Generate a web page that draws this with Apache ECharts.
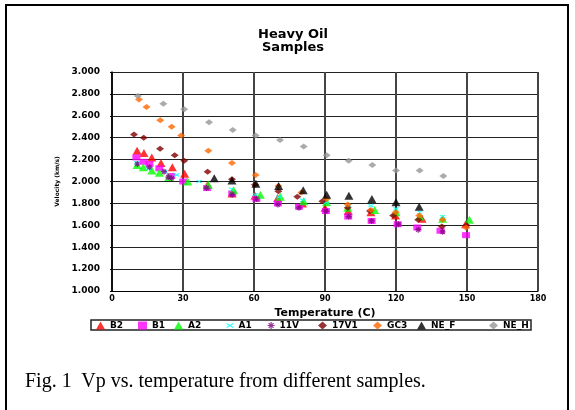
<!DOCTYPE html>
<html>
<head>
<meta charset="utf-8">
<script src="https://cdn.jsdelivr.net/npm/echarts@6/dist/echarts.min.js"></script>
<style>
html,body{margin:0;padding:0;background:#fff;}
#wrap{position:relative;width:575px;height:410px;overflow:hidden;}
#chart{position:absolute;left:0;top:0;width:575px;height:410px;}
#frame{position:absolute;left:5px;top:4px;width:564px;height:420px;border:2px solid #000;box-sizing:border-box;pointer-events:none;}
#caption{position:absolute;left:25px;top:369px;font-family:"Liberation Serif","Times New Roman",serif;font-size:20px;color:#000;white-space:pre;}
</style>
</head>
<body>
<div id="wrap">
<div id="chart"></div>
<div id="frame"></div>
<div id="caption">Fig. 1  Vp vs. temperature from different samples.</div>
</div>
<script>
// ---- data (temperature C, velocity km/s) ----
var seriesNames = ['B2','B1','A2','A1','11V','17V1','GC3','NE_F','NE_H'];
var xTicks = [0,30,60,90,120,150,180];
var yTicks = [1.0,1.2,1.4,1.6,1.8,2.0,2.2,2.4,2.6,2.8,3.0];

var B2 = [[10.6,2.28],[13.5,2.26],[16.8,2.22],[20.7,2.17],[25.5,2.13],[30.7,2.07],[40.4,1.97],[50.7,1.89],[60.4,1.87],[70,1.85],[80.5,1.80],[90,1.76],[99.8,1.73],[109.4,1.72],[119.8,1.69],[131,1.66],[149.4,1.61]];
var B1 = [[10.3,2.22],[13.4,2.18],[15.8,2.16],[20,2.12],[25,2.05],[30.1,2.00],[40.2,1.94],[50.8,1.89],[61,1.84],[70.1,1.80],[79,1.77],[90.4,1.73],[99.8,1.68],[109.7,1.64],[120.7,1.61],[129,1.58],[138.8,1.55],[149.6,1.51]];
var A2 = [[10.6,2.15],[13.2,2.13],[16.8,2.10],[20,2.08],[24,2.04],[32,2.00],[40.7,1.97],[51.4,1.92],[62.7,1.88],[71.1,1.86],[81,1.82],[90.7,1.81],[99.6,1.76],[111,1.74],[120,1.72],[130,1.68],[139.7,1.66],[151,1.65]];
var A1 = [[10.5,2.17],[15.5,2.12],[22.4,2.09],[27.3,2.06],[36.8,2.00],[50.5,1.93],[60.5,1.88],[70.5,1.86],[80.5,1.83],[90.5,1.81],[100,1.78],[109.4,1.78],[120,1.75],[130,1.72],[139.7,1.68]];
var V11 = [[10.7,2.16],[15.8,2.13],[22,2.09],[23.8,2.04],[25.2,2.03],[40,1.94],[50.8,1.88],[61,1.84],[70.1,1.79],[79,1.76],[90.4,1.73],[100,1.68],[109.7,1.64],[121,1.61],[129.4,1.56],[139.7,1.54]];
var V17V1 = [[9.3,2.43],[13.4,2.40],[20.3,2.30],[26.5,2.24],[30.5,2.19],[40.4,2.09],[50.7,2.02],[60.4,1.97],[70.3,1.91],[78.3,1.86],[88.9,1.82],[99.6,1.76],[109,1.73],[118.8,1.69],[129.4,1.65],[139.4,1.59],[149.8,1.60]];
var GC3 = [[11.4,2.75],[14.6,2.68],[20.4,2.56],[25.2,2.50],[29.2,2.42],[40.7,2.28],[50.7,2.17],[60.7,2.06],[70.3,1.96],[80,1.90],[90.7,1.84],[99.6,1.79],[109.4,1.74],[119.9,1.72],[129.8,1.69],[139.7,1.65],[149.6,1.58]];
var NE_F = [[43.2,2.03],[50.7,2.01],[60.8,1.98],[70.4,1.96],[80.8,1.92],[90.7,1.88],[100.1,1.87],[109.8,1.84],[120,1.81],[129.8,1.77]];
var NE_H = [[10.9,2.78],[21.7,2.71],[30.5,2.66],[41,2.54],[51,2.47],[60.7,2.42],[71,2.38],[81,2.32],[90.7,2.24],[100,2.19],[110,2.15],[120,2.10],[130,2.10],[140,2.05]];

var seriesData = [B2,B1,A2,A1,V11,V17V1,GC3,NE_F,NE_H];

// ---- styles ----
var asterisk = 'path://M0,5 L10,5 M5,0 L5,10 M1.5,1.5 L8.5,8.5 M8.5,1.5 L1.5,8.5';
var xmark = 'path://M0,0 L10,6 M10,0 L0,6';
var styles = [
  {symbol:'triangle', size:[9,8], color:'#FF0000'},
  {symbol:'rect', size:[8,6], color:'#FF00FF'},
  {symbol:'triangle', size:[9,8], color:'#00FF00'},
  {symbol:xmark, size:[5,3], color:'#00FFFF', stroke:true},
  {symbol:asterisk, size:[6,6], color:'#800080', stroke:true},
  {symbol:'diamond', size:[8,6], color:'#800000'},
  {symbol:'diamond', size:[8,6], color:'#FF6600'},
  {symbol:'triangle', size:[9,8], color:'#000000'},
  {symbol:'diamond', size:[8,6], color:'#969696'}
];
var legendLeft = [96,138,174,226,267,318,373,417,489];

var font = '"DejaVu Sans", "Liberation Sans", Arial, sans-serif';

var series = seriesNames.map(function(n,i){
  var s = styles[i];
  var it = s.stroke ? {color:s.color, borderColor:s.color, borderWidth:1.2} : {color:s.color};
  return {name:n, type:'scatter', data:seriesData[i], symbol:s.symbol, symbolSize:s.size, itemStyle:it, z:2+i};
});

var legends = seriesNames.map(function(n,i){
  var s = styles[i];
  var ts = {fontFamily:font, fontWeight:'bold', fontSize:9, color:'#000'};
  if (n === 'NE_H') { ts.width = 29; ts.overflow = 'truncate'; ts.ellipsis = ''; }
  var lg = {data:[n], left:legendLeft[i], top:321, padding:0, itemWidth:s.stroke?7:9, itemHeight:s.stroke?(n==='A1'?4:7):8, itemGap:0, textStyle:ts, selectedMode:false};
  if (s.stroke) { lg.icon = s.symbol; lg.itemStyle = {color:s.color, borderColor:s.color, borderWidth:1.2}; }
  return lg;
});

var chart = echarts.init(document.getElementById('chart'), null, {renderer:'canvas'});
chart.setOption({
  backgroundColor:'#fff',
  animation:false,
  title:{text:'Heavy Oil\nSamples', left:288, top:23, textAlign:'center',
    textStyle:{fontFamily:font, fontWeight:'bold', fontSize:13, lineHeight:13, color:'#000'}},
  grid:{left:112, right:37, top:72, bottom:119, containLabel:false},
  legend:legends,
  graphic:[{type:'rect', shape:{x:91, y:320, width:440, height:10}, style:{fill:'none', stroke:'#222', lineWidth:1.5}, z:0}],
  xAxis:{type:'value', min:xTicks[0], max:xTicks[xTicks.length-1], interval:30,
    name:'Temperature (C)', nameLocation:'middle', nameGap:14,
    nameTextStyle:{fontFamily:font, fontWeight:'bold', fontSize:11, color:'#000'},
    axisLine:{show:true, lineStyle:{color:'#000', width:1}},
    axisTick:{show:false},
    axisLabel:{fontFamily:font, fontWeight:'bold', fontSize:8, color:'#000', margin:4},
    splitLine:{show:true, lineStyle:{color:'#444', width:2}}},
  yAxis:{type:'value', min:yTicks[0], max:yTicks[yTicks.length-1], interval:0.2,
    name:'Velocity (km/s)', nameLocation:'middle', nameGap:45, nameRotate:90,
    nameTextStyle:{fontFamily:font, fontWeight:'bold', fontSize:6, color:'#000'},
    axisLine:{show:true, lineStyle:{color:'#000', width:1.5}},
    axisTick:{show:true, length:2, lineStyle:{color:'#000'}},
    axisLabel:{fontFamily:font, fontWeight:'bold', fontSize:9, color:'#000', margin:12,
      formatter:function(v){return v.toFixed(3);}},
    splitLine:{show:true, lineStyle:{color:'#222', width:1}}},
  series:series
});
</script>
</body>
</html>
